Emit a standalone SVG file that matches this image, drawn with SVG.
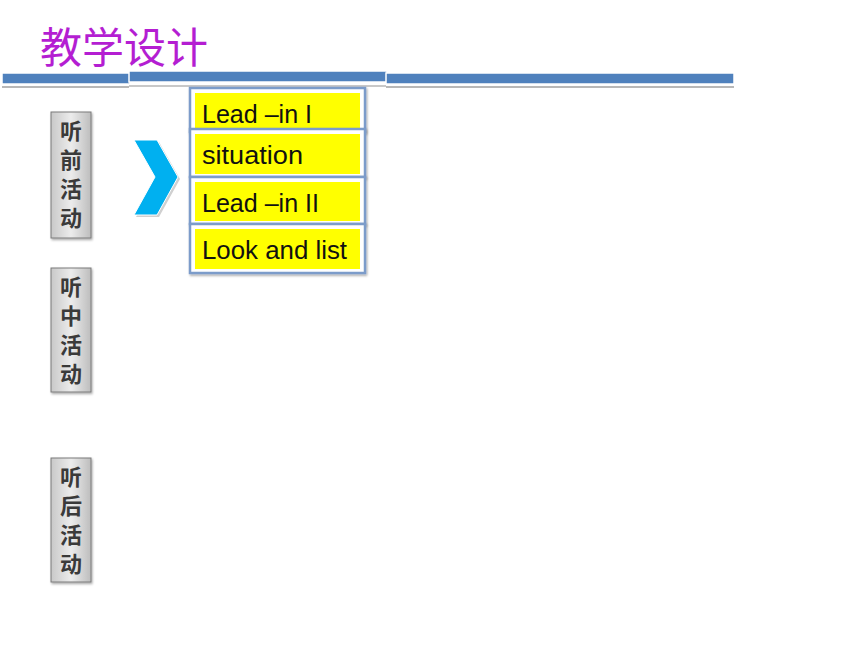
<svg xmlns="http://www.w3.org/2000/svg" width="860" height="645" viewBox="0 0 860 645">
<defs>
<linearGradient id="gray" x1="0" y1="0" x2="1" y2="0">
<stop offset="0" stop-color="#c8c8c8"/>
<stop offset="0.5" stop-color="#ececec"/>
<stop offset="1" stop-color="#bdbdbd"/>
</linearGradient>
<filter id="sh" x="-20%" y="-20%" width="140%" height="140%">
<feDropShadow dx="1" dy="1.5" stdDeviation="1" flood-color="#000" flood-opacity="0.35"/>
</filter>
</defs>
<style>
.title{font-family:"Noto Sans CJK SC",sans-serif;font-size:42px;fill:#B41ED2}
.side{fill:url(#gray);stroke:#7a7a7a;stroke-width:1}
.stxt{font-family:"Noto Sans CJK SC",sans-serif;font-size:22px;font-weight:bold;fill:#3a3a3a;text-anchor:middle}
.frame{fill:#ffffff;stroke:#7b9cca;stroke-width:2.5}
.yel{fill:#ffff00}
.ytxt{font-family:"Liberation Sans",Arial,sans-serif;font-size:25px;fill:#111}
.bar{fill:#4f81bd;stroke:#ffffff;stroke-width:1.5}
</style>
<rect width="860" height="645" fill="#ffffff"/>
<g id="title"><text class="title" x="40" y="63">教学设计</text></g>
<g id="header-bar">
<line x1="2" y1="87" x2="129" y2="87" stroke="#b8b8b8" stroke-width="2"/>
<line x1="129" y1="86" x2="386" y2="86" stroke="#c8c8c8" stroke-width="2"/>
<line x1="386" y1="87" x2="734" y2="87" stroke="#b8b8b8" stroke-width="2"/>
<rect class="bar" x="2" y="73" width="128" height="11"/>
<rect class="bar" x="129" y="71" width="258" height="11"/>
<rect class="bar" x="386" y="73" width="348" height="11"/>
</g>
<g id="side-pre">
<rect class="side" x="51" y="112" width="40" height="126" filter="url(#sh)"/>
<text class="stxt" x="71" y="139">听</text>
<text class="stxt" x="71" y="168">前</text>
<text class="stxt" x="71" y="197">活</text>
<text class="stxt" x="71" y="226">动</text>
</g>
<g id="side-mid">
<rect class="side" x="51" y="268" width="40" height="124" filter="url(#sh)"/>
<text class="stxt" x="71" y="295">听</text>
<text class="stxt" x="71" y="324">中</text>
<text class="stxt" x="71" y="353">活</text>
<text class="stxt" x="71" y="382">动</text>
</g>
<g id="side-post">
<rect class="side" x="51" y="458" width="40" height="124" filter="url(#sh)"/>
<text class="stxt" x="71" y="485">听</text>
<text class="stxt" x="71" y="514">后</text>
<text class="stxt" x="71" y="543">活</text>
<text class="stxt" x="71" y="572">动</text>
</g>
<g id="chevron">
<polygon points="136,142 159,142 180,179 159,217 136,217 157,179" fill="#d0d0d0"/>
<polygon points="134,140 157,140 178,177 157,215 134,215 155,177" fill="#00b0f0" stroke="#ffffff" stroke-width="1"/>
</g>
<g id="item1">
<rect class="frame" x="190" y="88" width="175" height="44" filter="url(#sh)"/>
<rect class="yel" x="195" y="93" width="165" height="36"/>
<text class="ytxt" x="202" y="123" textLength="110" lengthAdjust="spacingAndGlyphs">Lead –in I</text>
</g>
<g id="item2">
<rect class="frame" x="190" y="129" width="175" height="48" filter="url(#sh)"/>
<rect class="yel" x="195" y="134" width="165" height="40"/>
<text class="ytxt" x="202" y="164" textLength="101" lengthAdjust="spacingAndGlyphs">situation</text>
</g>
<g id="item3">
<rect class="frame" x="190" y="177" width="175" height="47" filter="url(#sh)"/>
<rect class="yel" x="195" y="182" width="165" height="39"/>
<text class="ytxt" x="202" y="212" textLength="117" lengthAdjust="spacingAndGlyphs">Lead –in II</text>
</g>
<g id="item4">
<rect class="frame" x="190" y="224" width="175" height="49" filter="url(#sh)"/>
<rect class="yel" x="195" y="229" width="165" height="40"/>
<text class="ytxt" x="202" y="259" textLength="145" lengthAdjust="spacingAndGlyphs">Look and list</text>
</g>
</svg>
